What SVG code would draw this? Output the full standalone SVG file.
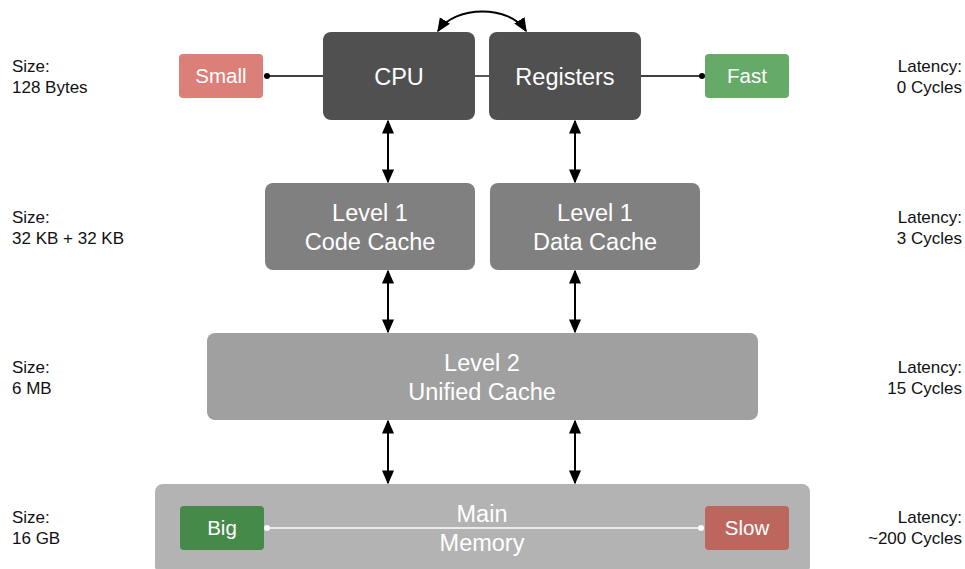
<svg xmlns="http://www.w3.org/2000/svg" width="965" height="569" viewBox="0 0 965 569">
  <style>
    .box { stroke: none; }
    .lbl { font-family: "Liberation Sans", Arial, sans-serif; fill: #ffffff; text-anchor: middle; }
    .big { font-size: 23.5px; }
    .tag { font-size: 20.5px; }
    .side { font-family: "Liberation Sans", Arial, sans-serif; font-size: 17px; fill: #111111; }
    .right { text-anchor: end; }
    .arrow { stroke: #000; stroke-width: 2; fill: none; marker-start: url(#head); marker-end: url(#head); }
    .tie { stroke: #000; stroke-width: 1.3; fill: none; }
  </style>
  <defs>
    <marker id="head" viewBox="0 0 10 10" refX="9" refY="5" markerWidth="7" markerHeight="7" orient="auto-start-reverse" markerUnits="strokeWidth">
      <path d="M0,0.7 L10,5 L0,9.3 z" fill="#000"/>
    </marker>
  </defs>

  <!-- side annotations -->
  <g id="size-labels">
    <text class="side" x="12" y="72">Size:</text>
    <text class="side" x="12" y="93">128 Bytes</text>
    <text class="side" x="12" y="223">Size:</text>
    <text class="side" x="12" y="244">32 KB + 32 KB</text>
    <text class="side" x="12" y="373">Size:</text>
    <text class="side" x="12" y="394">6 MB</text>
    <text class="side" x="12" y="523">Size:</text>
    <text class="side" x="12" y="544">16 GB</text>
  </g>
  <g id="latency-labels">
    <text class="side right" x="962" y="72">Latency:</text>
    <text class="side right" x="962" y="93">0 Cycles</text>
    <text class="side right" x="962" y="223">Latency:</text>
    <text class="side right" x="962" y="244">3 Cycles</text>
    <text class="side right" x="962" y="373">Latency:</text>
    <text class="side right" x="962" y="394">15 Cycles</text>
    <text class="side right" x="962" y="523">Latency:</text>
    <text class="side right" x="962" y="544">~200 Cycles</text>
  </g>

  <!-- nodes -->
  <g id="cpu">
    <rect class="box" x="323" y="32" width="152" height="88" rx="8" fill="#505050"/>
    <text class="lbl big" x="399" y="84.5">CPU</text>
  </g>
  <g id="registers">
    <rect class="box" x="489" y="32" width="152" height="88" rx="8" fill="#505050"/>
    <text class="lbl big" x="565" y="84.5">Registers</text>
  </g>
  <g id="small">
    <rect class="box" x="179" y="54" width="84" height="44" rx="4" fill="#dc7f78"/>
    <text class="lbl tag" x="221" y="83">Small</text>
  </g>
  <g id="fast">
    <rect class="box" x="705" y="54" width="84" height="44" rx="4" fill="#66aa68"/>
    <text class="lbl tag" x="747" y="83">Fast</text>
  </g>
  <g id="l1-code">
    <rect class="box" x="265" y="183" width="210" height="87" rx="8" fill="#808080"/>
    <text class="lbl big" x="370" y="221">Level 1</text>
    <text class="lbl big" x="370" y="250">Code Cache</text>
  </g>
  <g id="l1-data">
    <rect class="box" x="490" y="183" width="210" height="87" rx="8" fill="#808080"/>
    <text class="lbl big" x="595" y="221">Level 1</text>
    <text class="lbl big" x="595" y="250">Data Cache</text>
  </g>
  <g id="l2">
    <rect class="box" x="207" y="333" width="551" height="87" rx="8" fill="#a0a0a0"/>
    <text class="lbl big" x="482" y="371">Level 2</text>
    <text class="lbl big" x="482" y="400">Unified Cache</text>
  </g>
  <g id="main-memory">
    <rect class="box" x="155" y="484" width="655" height="90" rx="8" fill="#b3b3b3"/>
    <text class="lbl big" x="482" y="522">Main</text>
    <text class="lbl big" x="482" y="551">Memory</text>
  </g>
  <g id="big">
    <rect class="box" x="180" y="506" width="84" height="44" rx="4" fill="#468a4a"/>
    <text class="lbl tag" x="222" y="535">Big</text>
  </g>
  <g id="slow">
    <rect class="box" x="705" y="506" width="84" height="44" rx="4" fill="#bd665e"/>
    <text class="lbl tag" x="747" y="535">Slow</text>
  </g>

  <!-- connectors -->
  <g id="connectors">
    <path class="arrow" d="M438,31 C455,5 510,5 526,31"/>
    <line class="arrow" x1="388" y1="121" x2="388" y2="182"/>
    <line class="arrow" x1="575" y1="121" x2="575" y2="182"/>
    <line class="arrow" x1="388" y1="271" x2="388" y2="332"/>
    <line class="arrow" x1="575" y1="271" x2="575" y2="332"/>
    <line class="arrow" x1="388" y1="421" x2="388" y2="483"/>
    <line class="arrow" x1="575" y1="421" x2="575" y2="483"/>
    <line class="tie" x1="267" y1="76" x2="323" y2="76"/>
    <circle cx="267" cy="76" r="3" fill="#000"/>
    <line class="tie" x1="475" y1="76" x2="489" y2="76"/>
    <line class="tie" x1="641" y1="76" x2="702" y2="76"/>
    <circle cx="702" cy="76" r="3" fill="#000"/>
    <line x1="267" y1="528" x2="701" y2="528" stroke="#ffffff" stroke-width="1.5"/>
    <circle cx="267" cy="528" r="3" fill="#ffffff"/>
    <circle cx="701" cy="528" r="3" fill="#ffffff"/>
  </g>
</svg>
